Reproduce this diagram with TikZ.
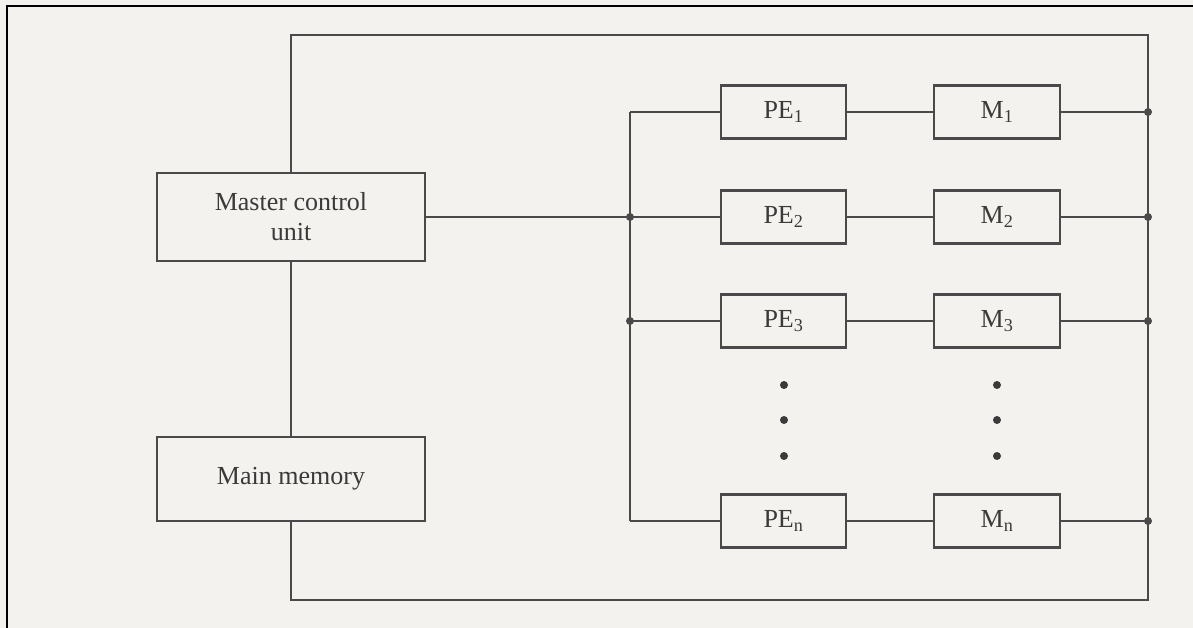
\documentclass[tikz,border=0pt]{standalone}
\usepackage{fontspec}
\setmainfont{Liberation Serif}
\definecolor{bg}{HTML}{F4F2EF}
\definecolor{ln}{HTML}{4A4A4A}
\definecolor{tx}{HTML}{3A3A3A}
\tikzset{
  box/.style={draw=ln, line width=2.2pt, fill=bg, inner sep=0pt, text=tx,
    font=\fontsize{26}{30}\selectfont, align=center},
  bigbox/.style={box, minimum width=268pt, minimum height=88pt},
  pebox/.style={box, minimum width=125pt, minimum height=53pt},
  wire/.style={draw=ln, line width=2pt},
  jdot/.style={circle, fill=ln, inner sep=0pt, minimum size=8pt},
  edot/.style={circle, fill=tx, inner sep=0pt, minimum size=8pt}
}
\begin{document}
\begin{tikzpicture}[x=1pt,y=-1pt]
\useasboundingbox (0,0) rectangle (1193,628);
\fill[bg] (0,0) rectangle (1193,628);
\draw[black, line width=1.2pt] (7,628) -- (7,6) -- (1193,6);

\node[bigbox] (mcu) at (291,217) {Master control\\unit};
\node[bigbox, minimum height=84pt] (mm) at (291,479) {Main memory};

\foreach \n/\y/\s in {1/112/1, 2/217/2, 3/321/3, n/521/n}{
  \node[pebox] (pe\n) at (783.5,\y) {PE\textsubscript{\s}};
  \node[pebox, minimum width=126pt] (m\n) at (997,\y) {M\textsubscript{\s}};
  \coordinate (j\n) at (630,\y);
  \coordinate (r\n) at (1148,\y);
}

\coordinate (tl) at (291,35);
\coordinate (tr) at (1148,35);
\coordinate (br) at (1148,600);
\coordinate (bl) at (291,600);

\draw[wire] (mcu.north) -- (tl) -- (tr) -- (br) -- (bl) -- (mm.south);
\draw[wire] (mcu.south) -- (mm.north);
\draw[wire] (mcu.east) -- (j2);
\draw[wire] (j1) -- (jn);

\foreach \n in {1,2,3,n}{
  \draw[wire] (j\n) -- (pe\n.west);
  \draw[wire] (pe\n.east) -- (m\n.west);
  \draw[wire] (m\n.east) -- (r\n);
  \node[jdot] (rd\n) at (r\n) {};
}
\node[jdot] (jd2) at (j2) {};
\node[jdot] (jd3) at (j3) {};

\foreach \i/\y in {a/385, b/420, c/456}{
  \node[edot] (pdot\i) at (784,\y) {};
  \node[edot] (mdot\i) at (997,\y) {};
}
\end{tikzpicture}
\end{document}
